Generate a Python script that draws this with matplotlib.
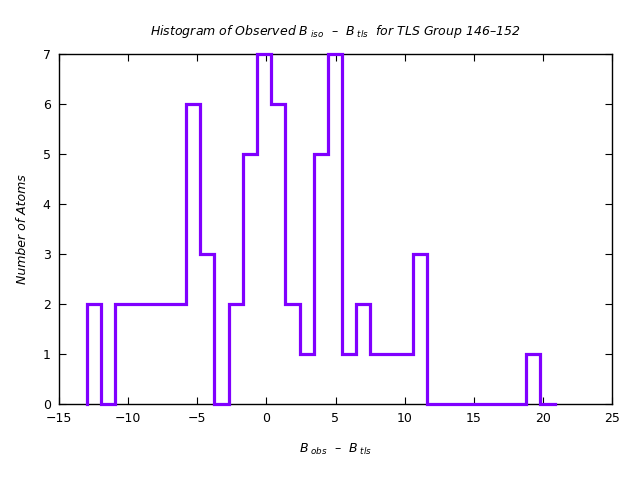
import numpy as np
import matplotlib
matplotlib.use('Agg')
import matplotlib.pyplot as plt

# histogram counts per bin (bins of ~1.025 from -12.98 to 20.85)
bin_lo = -12.98
bin_hi = 20.85
counts = [2, 0, 2, 2, 2, 2, 2, 6, 3, 0, 2, 5, 7, 6, 2, 1, 5, 7, 1, 2,
          1, 1, 1, 3, 0, 0, 0, 0, 0, 0, 0, 1, 0]

edges = np.linspace(bin_lo, bin_hi, len(counts) + 1)

fig = plt.figure(figsize=(6.4, 4.8), dpi=100)
ax = fig.add_axes([59/640, 1-404/480, (612-59)/640, (404-54)/480])

# step outline starting and ending at zero
xs = np.repeat(edges, 2)
ys = np.concatenate([[0], np.repeat(counts, 2), [0]])
ax.plot(xs, ys, color='#8000ff', lw=2.3, solid_joinstyle='miter',
        clip_on=False, zorder=3)

ax.set_xlim(-15, 25)
ax.set_ylim(0, 7)
ax.set_xticks(range(-15, 26, 5))
ax.set_yticks(range(0, 8))
ax.tick_params(direction='in', top=True, right=True, length=5, labelsize=9,
               pad=6)
for s in ax.spines.values():
    s.set_linewidth(1.0)

ax.set_title(r'Histogram of Observed $B_{\ iso}$  –  $B_{\ tls}$  for TLS Group 146–152',
             fontsize=9, style='italic', pad=14)
ax.set_xlabel(r'$B_{\ obs}$  –  $B_{\ tls}$', fontsize=9, style='italic',
              labelpad=12)
ax.set_ylabel('Number of Atoms', fontsize=9, style='italic', labelpad=10)

fig.savefig('out.png', dpi=100)
